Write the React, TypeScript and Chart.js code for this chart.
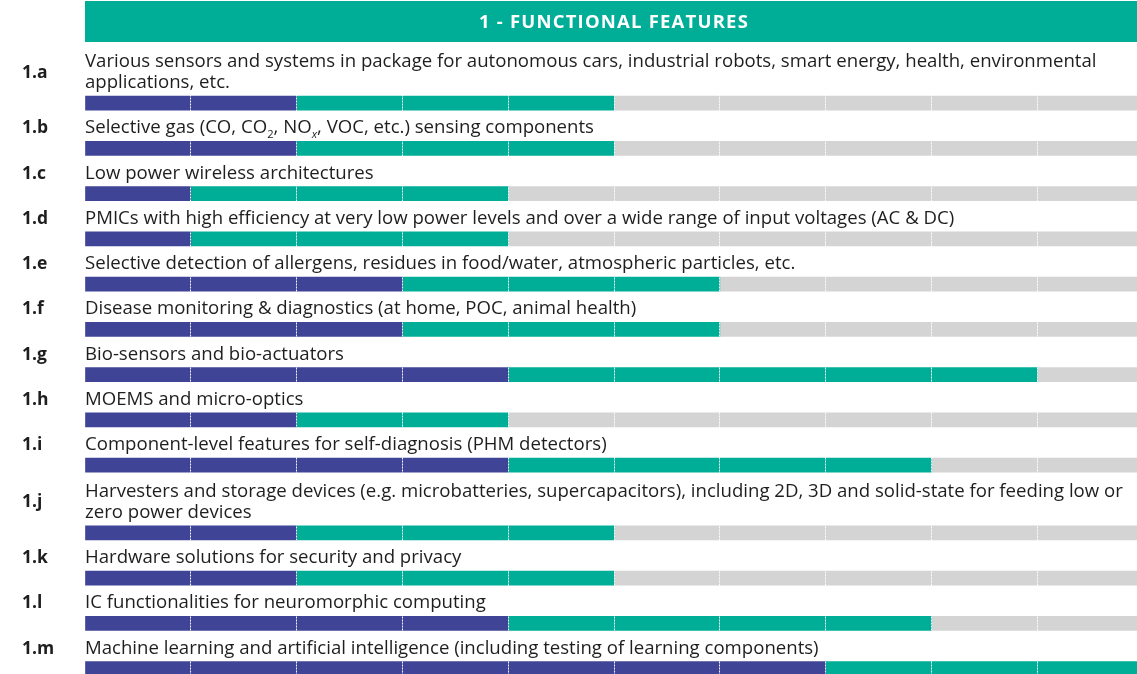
import React, { useEffect, useRef } from 'react';
import { Chart, registerables } from 'chart.js';

Chart.register(...registerables);

const headerTitle = '1 - FUNCTIONAL FEATURES';
const rowIds = ['1.a', '1.b', '1.c', '1.d', '1.e', '1.f', '1.g', '1.h', '1.i', '1.j', '1.k', '1.l', '1.m'];
const descriptions = [
  'Various sensors and systems in package for autonomous cars, industrial robots, smart energy, health, environmental\napplications, etc.',
  'Selective gas (CO, CO_{2}, NO_{x}, VOC, etc.) sensing components',
  'Low power wireless architectures',
  'PMICs with high efficiency at very low power levels and over a wide range of input voltages (AC & DC)',
  'Selective detection of allergens, residues in food/water, atmospheric particles, etc.',
  'Disease monitoring & diagnostics (at home, POC, animal health)',
  'Bio-sensors and bio-actuators',
  'MOEMS and micro-optics',
  'Component-level features for self-diagnosis (PHM detectors)',
  'Harvesters and storage devices (e.g. microbatteries, supercapacitors), including 2D, 3D and solid-state for feeding low or\nzero power devices',
  'Hardware solutions for security and privacy',
  'IC functionalities for neuromorphic computing',
  'Machine learning and artificial intelligence (including testing of learning components)',
];
// segment index (0..10) where the purple phase ends and where the teal phase ends
const purpleEnd = [2, 2, 1, 1, 3, 3, 4, 2, 4, 2, 2, 4, 7];
const tealEnd = [5, 5, 4, 4, 6, 6, 9, 4, 8, 5, 5, 8, 10];
const totalSegments = 10;

const PURPLE = '#3f4496';
const TEAL = '#00ae98';
const GRAY = '#d5d4d5';
const TEXT = '#1e1e1e';
const FONT = '"Open Sans", "Noto Sans", sans-serif';
const BODY_SIZE = 18.6;

// Build category slots: one slot per text line, plus one slot for the bar of each row
const slotLabels: string[] = [];
const rowSlot: number[] = [];
descriptions.forEach((d, i) => {
  const n = d.split('\n').length;
  for (let k = 0; k < n; k++) slotLabels.push(`${rowIds[i]}-t${k}`);
  rowSlot.push(slotLabels.length);
  slotLabels.push(rowIds[i]);
});

function slotData(values: number[]) {
  const arr: (number | null)[] = slotLabels.map(() => null);
  rowSlot.forEach((s, i) => {
    arr[s] = values[i];
  });
  return arr;
}

function drawRich(ctx: CanvasRenderingContext2D, text: string, x: number, y: number, size: number) {
  const parts = text.split(/(_\{[^}]*\})/);
  let cx = x;
  parts.forEach((p) => {
    if (!p) return;
    const m = p.match(/^_\{([^}]*)\}$/);
    if (m) {
      const sub = m[1];
      const italic = /[a-z]/.test(sub) ? 'italic ' : '';
      ctx.font = `${italic}${(size * 0.6).toFixed(1)}px ${FONT}`;
      ctx.fillText(sub, cx, y + size * 0.25);
      cx += ctx.measureText(sub).width;
    } else {
      ctx.font = `${size}px ${FONT}`;
      ctx.fillText(p, cx, y);
      cx += ctx.measureText(p).width;
    }
  });
}

const textPlugin = {
  id: 'roadmapText',
  afterDraw(chart: any) {
    const ctx: CanvasRenderingContext2D = chart.ctx;
    const yScale = chart.scales.y;
    const { left, right } = chart.chartArea;
    ctx.save();
    // header band
    ctx.fillStyle = TEAL;
    ctx.fillRect(left, 1, right - left, 41);
    ctx.fillStyle = '#ffffff';
    ctx.font = `bold 18.5px ${FONT}`;
    ctx.textAlign = 'center';
    ctx.textBaseline = 'middle';
    (ctx as any).letterSpacing = '1.2px';
    ctx.fillText(headerTitle, (left + right) / 2, 22.5);
    (ctx as any).letterSpacing = '0px';

    ctx.textAlign = 'left';
    ctx.textBaseline = 'alphabetic';
    ctx.fillStyle = TEXT;
    rowIds.forEach((id, i) => {
      const barY = yScale.getPixelForValue(rowSlot[i]);
      const lines = descriptions[i].split('\n');
      const n = lines.length;
      const baselines = lines.map((_, j) => barY - 15 - 21 * (n - 1 - j));
      lines.forEach((ln, j) => drawRich(ctx, ln, left, baselines[j], BODY_SIZE));
      const lb = baselines.reduce((a, b) => a + b, 0) / n;
      ctx.font = `bold 17.5px ${FONT}`;
      ctx.fillText(id, 22, lb);
    });
    ctx.restore();
  },
};

export default function App() {
  const ref = useRef<HTMLCanvasElement | null>(null);
  useEffect(() => {
    if (!ref.current) return;
    const chart = new Chart(ref.current, {
      type: 'bar',
      data: {
        labels: slotLabels,
        datasets: [
          { label: 'Phase 1', data: slotData(purpleEnd), backgroundColor: PURPLE, borderWidth: 0 },
          {
            label: 'Phase 2',
            data: slotData(tealEnd.map((t, i) => t - purpleEnd[i])),
            backgroundColor: TEAL,
            borderWidth: 0,
          },
          {
            label: 'Remaining',
            data: slotData(tealEnd.map((t) => totalSegments - t)),
            backgroundColor: GRAY,
            borderWidth: 0,
          },
        ],
      },
      options: {
        indexAxis: 'y',
        responsive: false,
        animation: false,
        events: [],
        layout: { padding: { left: 85, top: 46.5, right: 0, bottom: 0 } },
        datasets: { bar: { barThickness: 14 } },
        plugins: { legend: { display: false }, tooltip: { enabled: false } },
        scales: {
          x: {
            type: 'linear',
            stacked: true,
            min: 0,
            max: totalSegments,
            display: true,
            ticks: { display: false, stepSize: 1 },
            grid: {
              z: 1,
              drawTicks: false,
              lineWidth: 1,
              color: (c: any) =>
                c.tick && (c.tick.value === 0 || c.tick.value === totalSegments)
                  ? 'rgba(0,0,0,0)'
                  : 'rgba(255,255,255,0.95)',
            },
            border: { display: false, dash: [2, 1] },
          },
          y: {
            type: 'category',
            stacked: true,
            display: false,
            offset: true,
          },
        },
      },
      plugins: [textPlugin],
    } as any);
    return () => chart.destroy();
  }, []);
  return (
    <div style={{ position: 'absolute', left: 0, top: 0, width: 1137, height: 674, overflow: 'hidden', background: '#fff' }}>
      <canvas ref={ref} width={1143} height={680} style={{ display: 'block' }} />
    </div>
  );
}
